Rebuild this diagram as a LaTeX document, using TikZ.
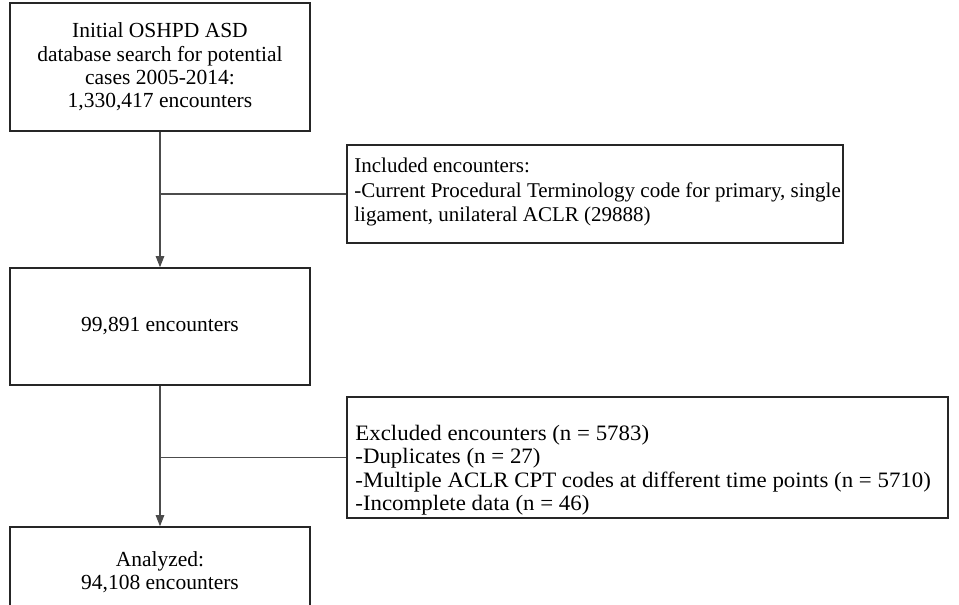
\documentclass[tikz,border=0pt]{standalone}
\usepackage{fontspec}
\setmainfont{Liberation Serif}
\usetikzlibrary{arrows.meta}
\begin{document}
\begin{tikzpicture}[x=1pt,y=-1pt,
  box/.style={draw=black!85,line width=1.6pt,inner sep=0pt,font=\fontsize{21.5}{23.3}\selectfont,align=center},
  frame/.style={draw=black!85,line width=1.6pt,inner sep=0pt},
  sidetext/.style={inner sep=0pt,anchor=north west,align=left},
  conn/.style={draw=black!70,line width=1.1pt},
  arr/.style={conn,-{Triangle[length=11pt,width=8.5pt]}}]
\useasboundingbox (0,0) rectangle (959,605);
\clip (0,0) rectangle (959,605);
\fill[white] (0,0) rectangle (959,605);
\node[box,minimum width=300pt,minimum height=128pt] (b1) at (160,67)
  {Initial OSHPD ASD\\database search for potential\\cases 2005-2014:\\1,330,417 encounters};
\node[frame,minimum width=496pt,minimum height=98pt] (inc) at (595,194) {};
\node[sidetext,font=\fontsize{21}{24.5}\selectfont] (inctext) at ([xshift=8pt,yshift=-14pt]inc.north west)
  {Included encounters:\\-Current Procedural Terminology code for primary, single\\ligament, unilateral ACLR (29888)};
\node[frame,minimum width=601pt,minimum height=121pt] (exc) at (647.5,457.5) {};
\node[sidetext,font=\fontsize{22}{23.2}\selectfont\addfontfeatures{FakeStretch=1.04}] (exctext) at ([xshift=9pt,yshift=-29pt]exc.north west)
  {Excluded encounters (n = 5783)\\-Duplicates (n = 27)\\-Multiple ACLR CPT codes at different time points (n = 5710)\\-Incomplete data (n = 46)};
\node[box,minimum width=300pt,minimum height=117pt] (b2) at (160,326.5)
  {99,891 encounters};
\node[box,minimum width=300pt,minimum height=91pt] (b3) at (160,572.5)
  {Analyzed:\\94,108 encounters};
\coordinate (j1) at (b1.south |- inc.west);
\coordinate (j2) at (b2.south |- exc.west);
\draw[arr] (b1.south) -- (b2.north);
\draw[conn] (j1) -- (inc.west);
\draw[arr] (b2.south) -- (b3.north);
\draw[conn] (j2) -- (exc.west);
\end{tikzpicture}
\end{document}
